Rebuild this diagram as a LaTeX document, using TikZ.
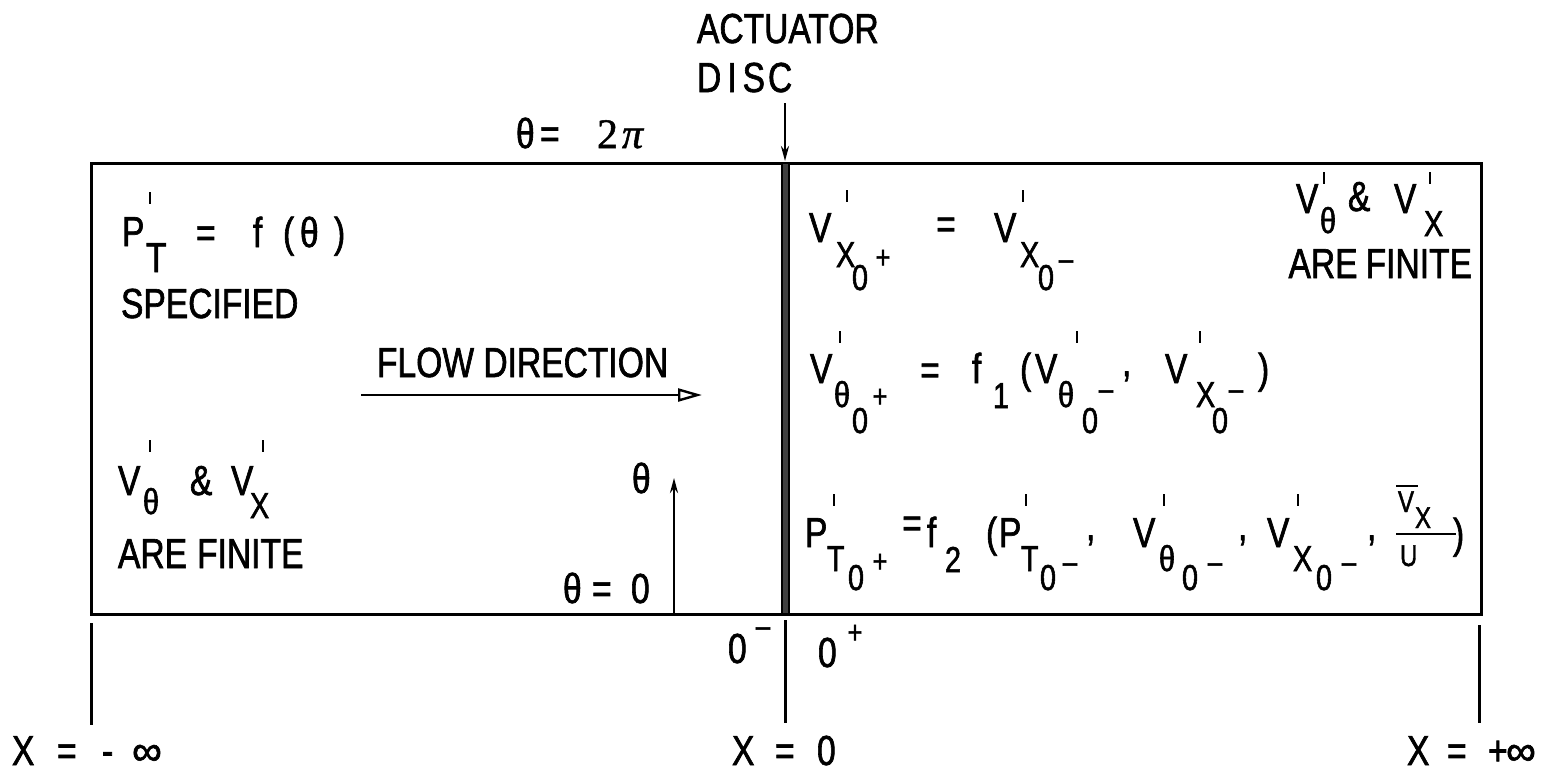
\documentclass[tikz,border=0pt]{standalone}
\usepackage{fontspec}
\setmainfont{Liberation Sans}[FakeStretch=0.8,FakeBold=1.5]
\newfontfamily\serfam{Liberation Serif}[FakeBold=1.2]
\newfontfamily\wide{Liberation Sans}[FakeBold=1.5]
\usetikzlibrary{arrows.meta}
\tikzset{
 txt/.style={inner sep=0pt, outer sep=0pt, anchor=base west, font=\fontsize{42}{46}\selectfont},
 sub/.style={txt, font=\fontsize{36}{40}\selectfont},
 sml/.style={txt, font=\fontsize{30}{34}\selectfont},
 ctr/.style={inner sep=0pt, outer sep=0pt, anchor=center, font=\fontsize{42}{46}\selectfont},
 ctrs/.style={ctr, font=\fontsize{32}{36}\selectfont},
 tickl/.style={line width=2.6pt},
 frame/.style={line width=3pt},
 vline/.style={line width=3pt},
 arr/.style={line width=2.4pt, -{Stealth[length=15pt,width=8pt]}},
 farr/.style={line width=2.8pt, -{Triangle[open,length=24pt,width=13pt,line width=2.4pt]}},
}
\newcommand\primetick[2]{\draw[tickl] (#1,#2) -- ++(0,12);}
\begin{document}
\begin{tikzpicture}[x=1pt,y=-1pt]
\useasboundingbox (0,0) rectangle (1558,772);
% ---------- top labels ----------
\node[txt] (act) at (697,43) {ACTUATOR};
\node[txt] (disc) at (697,92) {D\kern6pt I\kern6pt S\kern3pt C};
\coordinate (dA) at (785,103);
\coordinate (dB) at (785,161);
\draw[arr] (dA) -- (dB);
\node[txt] (thA) at (516,148) {θ};
\node[txt] (eqA) at (540,148) {=};
\node[txt] (twopi) at (597,148) {{\serfam 2}\kern4pt{\serfam\itshape π}};
% ---------- frame and disc ----------
\draw[frame] (91,163) rectangle (1481,614);
\fill[black!75] (782,163) rectangle (789,614);
\draw[line width=1.4pt] (782,163) rectangle (789,614);
% ---------- left region ----------
\node[txt] (lP) at (122,246) {P};
\primetick{150}{192}
\node[txt] (lT) at (146,272) {T};
\node[txt] (lEq) at (196,247) {=};
\node[txt] (lf) at (253,247) {f};
\node[txt] (lpo) at (283,247) {(};
\node[txt] (lth) at (300,247) {θ};
\node[txt] (lpc) at (334,247) {)};
\node[txt] (spec) at (121,318) {SPECIFIED};
\node[txt] (flow) at (377,377) {FLOW DIRECTION};
\coordinate (fA) at (361,395);
\coordinate (fB) at (702,395);
\draw[farr] (fA) -- (fB);
\node[txt] (lV1) at (118,495) {V};
\primetick{150}{440}
\node[sub] (lth1) at (143,514) {θ};
\node[txt] (lamp) at (190,495) {\&};
\node[txt] (lV2) at (231,495) {V};
\primetick{263}{440}
\node[sub] (lX) at (250,518) {X};
\node[txt] (lfin) at (118,568) {ARE\hspace{10pt}FINITE};
\node[txt] (thR) at (632,493) {θ};
\coordinate (tA) at (674,613);
\coordinate (tB) at (674,478);
\draw[arr] (tA) -- (tB);
\node[txt] (th0) at (563,603) {θ};
\node[txt] (th0eq) at (592,603) {=};
\node[txt] (th0z) at (631,603) {0};
% ---------- right region, row 1 ----------
\node[txt] (aV) at (809,242) {V};
\primetick{847}{190}
\node[sub] (aX) at (836,267) {X};
\node[sub] (a0) at (852,290) {0};
\node[ctrs] (ap) at (883,259) {+};
\node[ctr] (aEq) at (946,228) {=};
\node[txt] (bV) at (994,242) {V};
\primetick{1023}{190}
\node[sub] (bX) at (1020,267) {X};
\node[sub] (b0) at (1038,290) {0};
\node[ctrs] (bm) at (1066,265) {–};
% ---------- right top corner ----------
\node[txt] (cV1) at (1296,213) {V};
\primetick{1324}{172}
\node[sub] (cth) at (1320,233) {θ};
\node[txt] (camp) at (1348,211) {\&};
\node[txt] (cV2) at (1394,213) {V};
\primetick{1430}{172}
\node[sub] (cX) at (1424,236) {X};
\node[txt, anchor=base east] (cfin) at (1472,278) {ARE\hspace{8pt}FINITE};
% ---------- right region, row 2 ----------
\node[txt] (dV) at (810,383) {V};
\primetick{840}{331}
\node[sub] (dth) at (834,407) {θ};
\node[sub] (d0) at (852,433) {0};
\node[ctrs] (dp) at (880,398) {+};
\node[ctr] (dEq) at (930,374) {=};
\node[txt] (df) at (972,383) {f};
\node[sub] (d1) at (993,408) {1};
\node[txt] (dpo) at (1020,383) {(};
\node[txt] (dV2) at (1035,383) {V};
\primetick{1077}{331}
\node[sub] (dth2) at (1058,407) {θ};
\node[sub] (d02) at (1082,433) {0};
\node[ctrs] (dm2) at (1106,395) {–};
\node[txt] (dc) at (1122,376) {,};
\node[txt] (dV3) at (1165,383) {V};
\primetick{1200}{331}
\node[sub] (dX3) at (1196,407) {X};
\node[sub] (d03) at (1212,433) {0};
\node[ctrs] (dm3) at (1236,395) {–};
\node[txt] (dpc) at (1258,383) {)};
% ---------- right region, row 3 ----------
\node[txt] (eP) at (805,547) {P};
\primetick{834}{494}
\node[sub] (eT) at (827,571) {T};
\node[sub] (e0) at (848,590) {0};
\node[ctrs] (ep) at (880,563) {+};
\node[ctr] (eEq) at (912,527) {=};
\node[txt] (ef) at (927,547) {f};
\node[sub] (e2) at (945,572) {2};
\node[txt] (epo) at (986,547) {(};
\node[txt] (eP2) at (999,547) {P};
\primetick{1026}{494}
\node[sub] (eT2) at (1021,571) {T};
\node[sub] (e02) at (1040,590) {0};
\node[ctrs] (em2) at (1070,568) {–};
\node[txt] (ec2) at (1086,540) {,};
\node[txt] (eV3) at (1133,547) {V};
\primetick{1164}{494}
\node[sub] (eth3) at (1159,571) {θ};
\node[sub] (e03) at (1182,590) {0};
\node[ctrs] (em3) at (1215,568) {–};
\node[txt] (ec3) at (1238,540) {,};
\node[txt] (eV4) at (1267,547) {V};
\primetick{1298}{494}
\node[sub] (eX4) at (1293,571) {X};
\node[sub] (e04) at (1316,590) {0};
\node[ctrs] (em4) at (1349,568) {–};
\node[txt] (ec4) at (1367,540) {,};
\node[sml] (fV) at (1398,512) {V};
\draw[line width=2.2pt] (1396,486) -- (1418,486);
\node[sml] (fX) at (1415,528) {X};
\draw[line width=2.2pt] (1396,534) -- (1456,534);
\node[sml] (fU) at (1400,566) {U};
\node[txt] (epc) at (1453,548) {)};
% ---------- below frame ----------
\draw[vline] (91,623) -- (91,725);
\draw[vline] (785,620) -- (785,723);
\draw[vline] (1479,625) -- (1479,723);
\node[txt] (zm) at (728,663) {0};
\node[ctrs] (zmm) at (763,632) {–};
\node[txt] (zp) at (818,667) {0};
\node[ctrs] (zpp) at (855,634) {+};
\node[txt] (gX) at (12,765) {X};
\node[txt] (gEq) at (57,765) {=};
\node[txt] (gm) at (102,765) {-};
\node[txt] (ginf) at (132,765) {\wide ∞};
\node[txt] (hX) at (732,765) {X};
\node[txt] (hEq) at (775,765) {=};
\node[txt] (h0) at (817,765) {0};
\node[txt] (kX) at (1407,765) {X};
\node[txt] (kEq) at (1447,765) {=};
\node[txt] (kp) at (1488,765) {+};
\node[txt] (kinf) at (1506,765) {\wide ∞};
\end{tikzpicture}
\end{document}
